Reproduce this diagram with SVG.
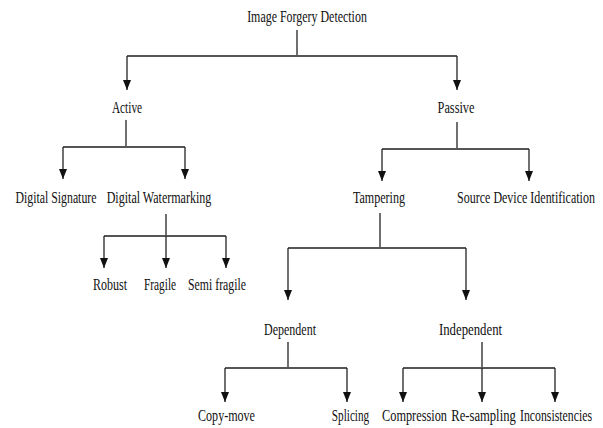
<svg xmlns="http://www.w3.org/2000/svg" width="603" height="428" viewBox="0 0 603 428">
<defs>
<marker id="arr" viewBox="0 0 10 8" refX="10" refY="4" markerWidth="10" markerHeight="8" markerUnits="userSpaceOnUse" orient="auto">
<path d="M0,0 L10,4 L0,8 z" fill="#111"/>
</marker>
<style>
text{font-family:"Liberation Serif","Times New Roman",serif;font-size:16px;fill:#111;text-anchor:middle}
.stem{stroke:#222;stroke-width:1.3;fill:none}
.bar{stroke:#555;stroke-width:2;fill:none}
.arrow{stroke:#222;stroke-width:1.3;fill:none;marker-end:url(#arr)}
</style>
</defs>
<rect width="603" height="428" fill="#fff"/>
<g id="connectors">
<path class="stem" d="M297 30 V56"/>
<path class="bar" d="M127 56 H457"/>
<path class="arrow" d="M127 56 V90"/>
<path class="arrow" d="M457 56 V90"/>
<path class="stem" d="M126 120 V147"/>
<path class="bar" d="M63 147 H185"/>
<path class="arrow" d="M63 147 V179"/>
<path class="arrow" d="M185 147 V179"/>
<path class="stem" d="M166 214 V236"/>
<path class="bar" d="M104 236 H226"/>
<path class="arrow" d="M104 236 V268"/>
<path class="arrow" d="M166 236 V268"/>
<path class="arrow" d="M226 236 V268"/>
<path class="stem" d="M457 122 V149"/>
<path class="bar" d="M382 149 H529"/>
<path class="arrow" d="M382 149 V181"/>
<path class="arrow" d="M529 149 V181"/>
<path class="stem" d="M380 213 V248"/>
<path class="bar" d="M288 248 H466"/>
<path class="arrow" d="M288 248 V300"/>
<path class="arrow" d="M466 248 V300"/>
<path class="stem" d="M288 342 V368"/>
<path class="bar" d="M225 368 H347"/>
<path class="arrow" d="M225 368 V402"/>
<path class="arrow" d="M347 368 V402"/>
<path class="stem" d="M482 342 V368"/>
<path class="bar" d="M403 368 H555"/>
<path class="arrow" d="M403 368 V402"/>
<path class="arrow" d="M482 368 V402"/>
<path class="arrow" d="M555 368 V402"/>
</g>
<g id="node-root" transform="translate(307 22) scale(0.746 1)"><text>Image Forgery Detection</text></g>
<g id="node-active" transform="translate(127 113) scale(0.71 1)"><text>Active</text></g>
<g id="node-passive" transform="translate(456 113) scale(0.77 1)"><text>Passive</text></g>
<g id="node-digital-signature" transform="translate(56 203) scale(0.738 1)"><text>Digital Signature</text></g>
<g id="node-digital-watermarking" transform="translate(159 203) scale(0.752 1)"><text>Digital Watermarking</text></g>
<g id="node-tampering" transform="translate(379 203) scale(0.755 1)"><text>Tampering</text></g>
<g id="node-source-device" transform="translate(526 203) scale(0.75 1)"><text>Source Device Identification</text></g>
<g id="node-robust" transform="translate(110 290) scale(0.75 1)"><text>Robust</text></g>
<g id="node-fragile" transform="translate(160 290) scale(0.71 1)"><text>Fragile</text></g>
<g id="node-semi-fragile" transform="translate(217 290) scale(0.737 1)"><text>Semi fragile</text></g>
<g id="node-dependent" transform="translate(290 335) scale(0.75 1)"><text>Dependent</text></g>
<g id="node-independent" transform="translate(470.5 335) scale(0.8 1)"><text>Independent</text></g>
<g id="node-copy-move" transform="translate(226.5 421) scale(0.754 1)"><text>Copy-move</text></g>
<g id="node-splicing" transform="translate(350.5 421) scale(0.7 1)"><text>Splicing</text></g>
<g id="node-compression" transform="translate(414.5 421) scale(0.77 1)"><text>Compression</text></g>
<g id="node-resampling" transform="translate(483.5 421) scale(0.79 1)"><text>Re-sampling</text></g>
<g id="node-inconsistencies" transform="translate(556 421) scale(0.737 1)"><text>Inconsistencies</text></g>
</svg>
